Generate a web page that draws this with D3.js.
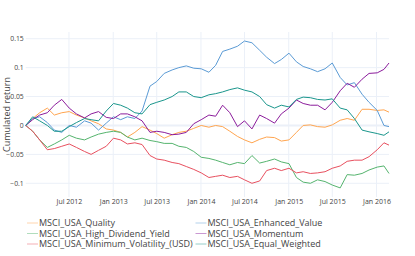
<!DOCTYPE html>
<html>
<head>
<meta charset="utf-8">
<script src="https://cdn.jsdelivr.net/npm/d3@7"></script>
<style>
  body { margin: 0; background: #fff; }
  text { font-family: "Open Sans", "DejaVu Sans", sans-serif; fill: #444; }
</style>
</head>
<body>
<svg id="chart" width="415" height="256"></svg>
<script>
// monthly samples
var dates = ["2012-01-03", "2012-02-01", "2012-03-01", "2012-04-02", "2012-05-01", "2012-06-01",
    "2012-07-02", "2012-08-01", "2012-09-04", "2012-10-01", "2012-11-01", "2012-12-03",
    "2013-01-02", "2013-02-01", "2013-03-01", "2013-04-01", "2013-05-01", "2013-06-03",
    "2013-07-01", "2013-08-01", "2013-09-03", "2013-10-01", "2013-11-01", "2013-12-02",
    "2014-01-02", "2014-02-03", "2014-03-03", "2014-04-01", "2014-05-01", "2014-06-02",
    "2014-07-01", "2014-08-01", "2014-09-02", "2014-10-01", "2014-11-03", "2014-12-01",
    "2015-01-02", "2015-02-02", "2015-03-02", "2015-04-01", "2015-05-01", "2015-06-01",
    "2015-07-01", "2015-08-03", "2015-09-01", "2015-10-01", "2015-11-02", "2015-12-01",
    "2016-01-04", "2016-02-01", "2016-02-22"];

var quality = [0, 0.012, 0.022, 0.03, 0.018, 0.022, 0.024, 0.018, 0.013, 0.008, 0.003, -0.006,
    -0.008, -0.012, -0.02, -0.012, -0.002, -0.008, -0.014, -0.022, -0.016, -0.012, -0.01, -0.005,
    0, -0.003, 0, -0.002, -0.01, -0.019, -0.025, -0.03, -0.024, -0.02, -0.021, -0.027,
    -0.025, -0.012, 0, 0.001, -0.002, -0.003, 0.001, 0.009, 0.012, 0.009, 0.028, 0.028,
    0.026, 0.027, 0.023];
var highDividend = [0, -0.01, -0.025, -0.038, -0.032, -0.025, -0.017, -0.022, -0.025, -0.02, -0.015, -0.012,
    -0.01, -0.012, -0.02, -0.025, -0.022, -0.026, -0.028, -0.031, -0.031, -0.036, -0.038, -0.045,
    -0.055, -0.057, -0.06, -0.064, -0.068, -0.064, -0.066, -0.052, -0.065, -0.062, -0.058, -0.063,
    -0.066, -0.09, -0.098, -0.1, -0.094, -0.097, -0.103, -0.108, -0.085, -0.086, -0.083, -0.077,
    -0.072, -0.07, -0.083];
var minVol = [0, -0.01, -0.025, -0.042, -0.04, -0.036, -0.032, -0.038, -0.045, -0.05, -0.043, -0.036,
    -0.022, -0.025, -0.032, -0.03, -0.033, -0.052, -0.058, -0.06, -0.064, -0.066, -0.071, -0.076,
    -0.082, -0.09, -0.088, -0.086, -0.09, -0.088, -0.094, -0.1, -0.096, -0.078, -0.074, -0.078,
    -0.074, -0.082, -0.08, -0.083, -0.082, -0.08, -0.074, -0.07, -0.062, -0.06, -0.06, -0.054,
    -0.042, -0.03, -0.034];
var enhancedValue = [0, 0.012, 0.015, 0.005, -0.008, -0.012, 0, -0.003, 0.008, 0.004, -0.008, 0.004,
    0.015, 0.01, 0.015, 0.012, 0.025, 0.068, 0.076, 0.09, 0.096, 0.1, 0.103, 0.099,
    0.098, 0.092, 0.104, 0.128, 0.132, 0.137, 0.146, 0.143, 0.13, 0.118, 0.107, 0.114,
    0.125, 0.11, 0.102, 0.098, 0.093, 0.098, 0.108, 0.083, 0.07, 0.074, 0.054, 0.04,
    0.026, 0, -0.002];
var momentum = [0, 0.01, 0.018, 0.022, 0.035, 0.045, 0.03, 0.02, 0.013, 0.02, 0.024, 0.014,
    0.012, 0.02, 0.02, 0.015, 0.008, -0.012, -0.01, -0.012, -0.016, -0.015, -0.012, 0.003,
    0.01, 0.018, 0.016, 0.035, 0.022, -0.002, 0.008, -0.006, 0.018, 0.012, 0.004, 0.02,
    0.03, 0.044, 0.038, 0.035, 0.035, 0.027, 0.04, 0.06, 0.073, 0.066, 0.08, 0.09,
    0.091, 0.097, 0.108];
var equalWeighted = [0, 0.015, 0.008, 0, -0.01, -0.01, -0.002, 0.005, 0.012, 0.01, 0.008, 0.025,
    0.038, 0.035, 0.03, 0.022, 0.02, 0.036, 0.04, 0.044, 0.05, 0.058, 0.058, 0.05,
    0.048, 0.053, 0.055, 0.058, 0.062, 0.065, 0.061, 0.058, 0.05, 0.036, 0.03, 0.035,
    0.032, 0.045, 0.049, 0.048, 0.045, 0.044, 0.046, 0.03, 0.027, 0.012, -0.008, -0.011,
    -0.014, -0.017, -0.011];

var seriesNames = ["MSCI_USA_Quality", "MSCI_USA_High_Dividend_Yield", "MSCI_USA_Minimum_Volatility_(USD)",
    "MSCI_USA_Enhanced_Value", "MSCI_USA_Momentum", "MSCI_USA_Equal_Weighted"];
var seriesValues = [quality, highDividend, minVol, enhancedValue, momentum, equalWeighted];
var seriesColors = ["#ffa54f", "#55b46e", "#e8505f", "#5b9bd5", "#8c1d9c", "#1a968c"];

var yTicks = [-0.1, -0.05, 0, 0.05, 0.1, 0.15];
var yTickLabels = ["\u22120.1", "\u22120.05", "0", "0.05", "0.1", "0.15"];
var xTicks = ["2012-07-01", "2013-01-01", "2013-07-01", "2014-01-01", "2014-07-01", "2015-01-01", "2015-07-01", "2016-01-01"];

var parse = d3.timeParse("%Y-%m-%d");
var svg = d3.select("#chart");

var plotLeft = 25.7, plotRight = 389, plotTop = 32, plotBottom = 197;

var x = d3.scaleTime()
    .domain([parse(dates[0]), parse(dates[dates.length - 1])])
    .range([plotLeft, plotRight]);
var y = d3.scaleLinear()
    .domain([-0.1237, 0.1616])
    .range([plotBottom, plotTop]);

// grid
var grid = svg.append("g");
grid.selectAll(".vg").data(xTicks).enter().append("line")
    .attr("x1", function (d) { return x(parse(d)); })
    .attr("x2", function (d) { return x(parse(d)); })
    .attr("y1", plotTop).attr("y2", plotBottom)
    .attr("stroke", "#ebf0f8").attr("stroke-width", 1);
grid.selectAll(".hg").data(yTicks).enter().append("line")
    .attr("x1", plotLeft).attr("x2", plotRight)
    .attr("y1", function (d) { return y(d); })
    .attr("y2", function (d) { return y(d); })
    .attr("stroke", "#ebf0f8")
    .attr("stroke-width", function (d) { return d == 0 ? 2 : 1; });

// axes
var yAxis = d3.axisLeft(y).tickValues(yTicks).tickSize(0).tickPadding(2)
    .tickFormat(function (d, i) { return yTickLabels[i]; });
var gy = svg.append("g").attr("transform", "translate(" + plotLeft + ",0)").call(yAxis);
gy.select(".domain").remove();
gy.selectAll("text").style("font-size", "6.8px").attr("fill", "#444");

var xAxis = d3.axisBottom(x).tickValues(xTicks.map(parse)).tickSize(0).tickPadding(2)
    .tickFormat(d3.timeFormat("%b %Y"));
var gx = svg.append("g").attr("transform", "translate(0," + plotBottom + ")").call(xAxis);
gx.select(".domain").remove();
gx.selectAll("text").style("font-size", "7px").attr("fill", "#444");
svg.selectAll(".tick text").attr("font-family", null);

svg.append("text")
    .attr("transform", "translate(10," + ((plotTop + plotBottom) / 2) + ") rotate(-90)")
    .attr("text-anchor", "middle")
    .style("font-size", "9px")
    .text("Cumulated return");

// lines
var line = d3.line()
    .x(function (d, i) { return x(parse(dates[i])); })
    .y(function (d) { return y(d); });

svg.append("g").selectAll("path").data(seriesValues).enter().append("path")
    .attr("d", line)
    .attr("fill", "none")
    .attr("stroke", function (d, i) { return seriesColors[i]; })
    .attr("stroke-width", 1);

// legend, two columns of three
var legend = svg.append("g");
var item = legend.selectAll("g").data(seriesNames).enter().append("g")
    .attr("transform", function (d, i) {
        var col = Math.floor(i / 3), row = i % 3;
        return "translate(" + (col == 0 ? 27 : 195.5) + "," + (223 + row * 10.5) + ")";
    });
item.append("line")
    .attr("x1", 0).attr("x2", 11)
    .attr("stroke", function (d, i) { return seriesColors[i]; })
    .attr("stroke-width", 1)
    .attr("opacity", 0.45);
item.append("text")
    .attr("x", 12)
    .attr("dy", "0.35em")
    .style("font-size", "9px")
    .text(function (d) { return d; });
</script>
</body>
</html>
